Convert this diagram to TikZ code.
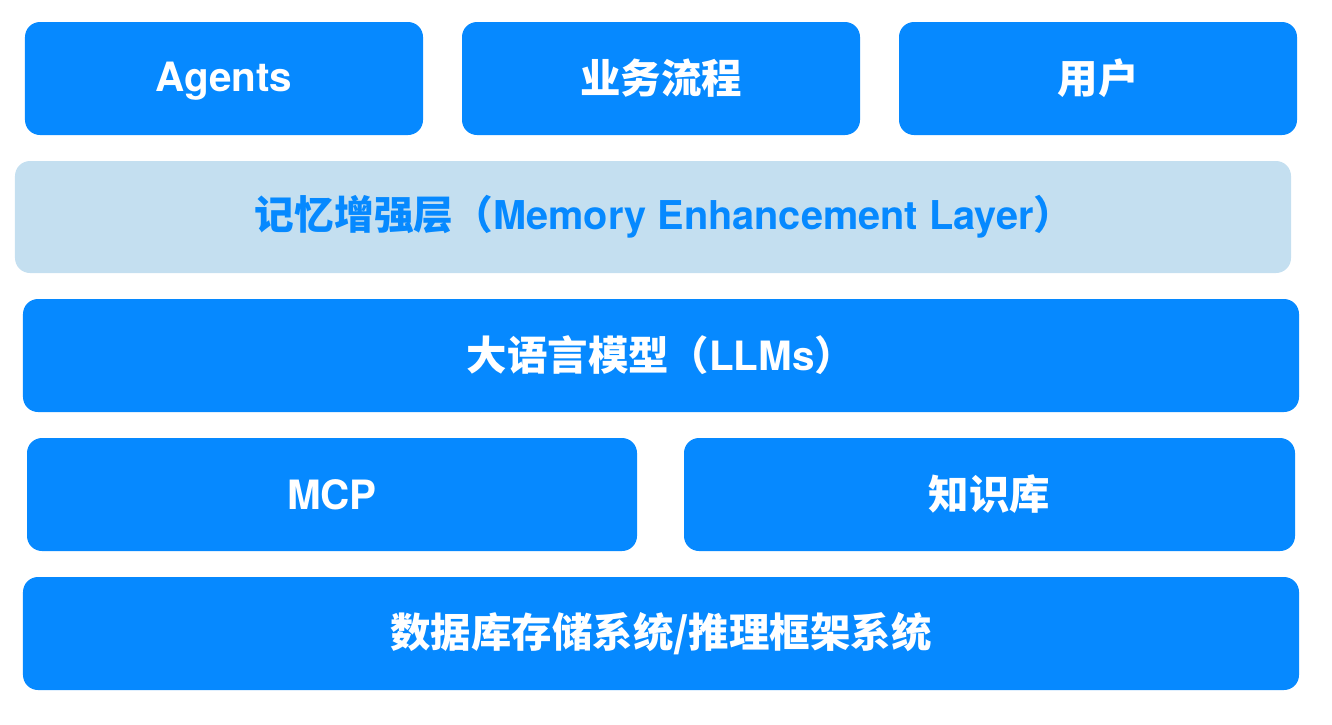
\documentclass[tikz,border=0pt]{standalone}
\usepackage{fontspec}
\setmainfont{TeX Gyre Heros}
\newfontfamily\cjk{Noto Sans CJK SC}
\usepackage{xcolor}
\usetikzlibrary{positioning}
\definecolor{layblue}{HTML}{0689FF}
\definecolor{laylight}{HTML}{C4DFF0}
\newcommand{\zh}[1]{{\cjk #1}}
\tikzset{
  lay/.style={fill=layblue,rounded corners=0.3cm,align=center,minimum height=2.26cm,inner sep=0pt,text=white,font=\fontsize{23}{26}\selectfont\bfseries},
  mem/.style={lay,fill=laylight,text=layblue,minimum height=2.24cm,font=\fontsize{22.6}{26}\selectfont\bfseries},
}
\begin{document}
\begin{tikzpicture}
  \useasboundingbox (0,0) rectangle (26.64,-14.48);
  % top row
  \node[lay,minimum width=7.96cm] (agents) at (4.48,-1.57) {Agents\vphantom{\zh{业}}};
  \node[lay,minimum width=7.96cm] (flow) at (13.22,-1.57) {\zh{业务流程}};
  \node[lay,minimum width=7.96cm] (user) at (21.96,-1.57) {\zh{用户}};
  % memory layer
  \node[mem,minimum width=25.52cm] (memory) at (13.06,-4.34) {\hspace*{0.45cm}\zh{记忆增强层（}Memory Enhancement Layer\zh{）}};
  \node[lay,minimum width=25.52cm] (llm) at (13.22,-7.11) {\zh{大语言模型（}LLMs\zh{）}};
  % tools
  \node[lay,minimum width=12.2cm] (mcp) at (6.64,-9.89) {MCP\vphantom{\zh{知}}};
  \node[lay,minimum width=12.22cm] (kb) at (19.79,-9.89) {\zh{知识库}};
  \node[lay,minimum width=25.52cm] (base) at (13.22,-12.67) {\zh{数据库存储系统/推理框架系统}};
\end{tikzpicture}
\end{document}
